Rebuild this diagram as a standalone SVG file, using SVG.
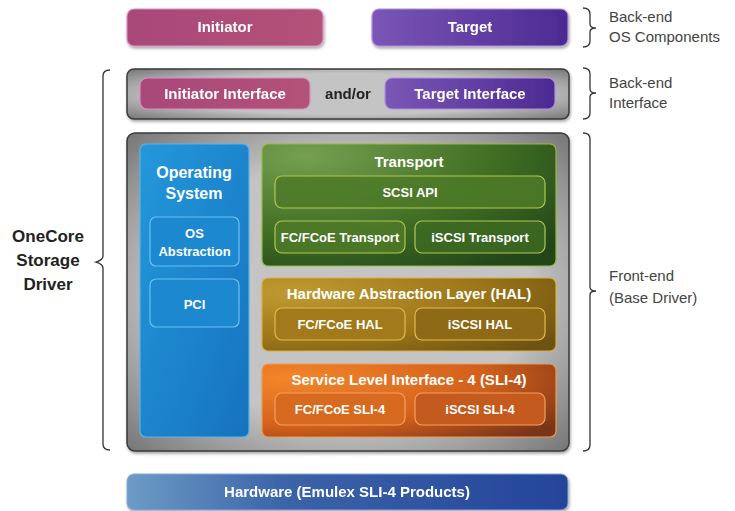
<svg xmlns="http://www.w3.org/2000/svg" width="735" height="511" viewBox="0 0 735 511">
<defs>
<linearGradient id="gInit" x1="0" y1="0" x2="1" y2="0"><stop offset="0" stop-color="#a8487a"/><stop offset="1" stop-color="#b45278"/></linearGradient>
<linearGradient id="gTgt" x1="0" y1="0" x2="1" y2="0"><stop offset="0" stop-color="#7a56b6"/><stop offset="1" stop-color="#4c2a92"/></linearGradient>
<radialGradient id="gGray" cx="0.5" cy="0.5" r="0.75"><stop offset="0.55" stop-color="#c4c4c4"/><stop offset="1" stop-color="#6a6a6a"/></radialGradient>
<linearGradient id="gBlue" x1="0" y1="0" x2="1" y2="1"><stop offset="0" stop-color="#2398da"/><stop offset="1" stop-color="#1672c0"/></linearGradient>
<radialGradient id="gGreen" cx="0.15" cy="0.1" r="1.1"><stop offset="0" stop-color="#76a050"/><stop offset="0.6" stop-color="#3f6c22"/><stop offset="1" stop-color="#23451a"/></radialGradient>
<radialGradient id="gHal" cx="0.1" cy="0.2" r="1.1"><stop offset="0" stop-color="#c09a30"/><stop offset="0.6" stop-color="#9a7418"/><stop offset="1" stop-color="#6e5212"/></radialGradient>
<radialGradient id="gSli" cx="0.1" cy="0.2" r="1.1"><stop offset="0" stop-color="#f4862a"/><stop offset="0.6" stop-color="#d2601c"/><stop offset="1" stop-color="#7a3418"/></radialGradient>
<linearGradient id="gHw" x1="0" y1="0" x2="1" y2="0"><stop offset="0" stop-color="#6c9cc6"/><stop offset="0.35" stop-color="#3c64a8"/><stop offset="1" stop-color="#24449a"/></linearGradient>
<filter id="sh" x="-5%" y="-10%" width="110%" height="125%"><feDropShadow dx="1" dy="2" stdDeviation="1.5" flood-color="#000" flood-opacity="0.35"/></filter>
</defs>
<style>
.t{font-family:"Liberation Sans",Arial,sans-serif;font-weight:bold;fill:#fff;text-anchor:middle}
.lab{font-family:"Liberation Sans",Arial,sans-serif;fill:#444;font-size:15px}
.side{font-family:"Liberation Sans",Arial,sans-serif;font-weight:bold;fill:#222;font-size:17px;text-anchor:middle}
.br{fill:none;stroke:#333;stroke-width:1.3}
.inner{stroke-width:1.2}
</style>

<g id="initiator" filter="url(#sh)"><rect x="127" y="9" width="196" height="37" rx="7" fill="url(#gInit)" stroke="#d890c0" stroke-width="1.2"/><text class="t" x="225" y="32" font-size="15">Initiator</text></g>
<g id="target" filter="url(#sh)"><rect x="372" y="9" width="196" height="37" rx="7" fill="url(#gTgt)" stroke="#b090e0" stroke-width="1.2"/><text class="t" x="470" y="32" font-size="15">Target</text></g>

<g id="backend-interface" filter="url(#sh)"><rect x="127" y="69" width="442" height="50" rx="7" fill="url(#gGray)" stroke="#3a3a3a" stroke-width="1.5"/>
<rect x="140" y="78" width="170" height="31" rx="7" fill="url(#gInit)" stroke="#d890c0" stroke-width="1.2"/><text class="t" x="225" y="99" font-size="15">Initiator Interface</text>
<text x="348" y="99" font-family="Liberation Sans,Arial,sans-serif" font-weight="bold" font-size="15" fill="#222" text-anchor="middle">and/or</text>
<rect x="385" y="78" width="170" height="31" rx="7" fill="url(#gTgt)" stroke="#b090e0" stroke-width="1.2"/><text class="t" x="470" y="99" font-size="15">Target Interface</text></g>

<g id="core" filter="url(#sh)"><rect x="127" y="133" width="442" height="318" rx="8" fill="url(#gGray)" stroke="#3a3a3a" stroke-width="1.5"/></g>

<g id="os"><rect x="140" y="144" width="109" height="293" rx="6" fill="url(#gBlue)" stroke="#5ab4ea" stroke-width="1.2"/>
<text class="t" x="194" y="178" font-size="16">Operating</text><text class="t" x="194" y="199" font-size="16">System</text>
<rect x="150" y="217" width="89" height="49" rx="6" fill="#1b88d0" stroke="#6cc0f0" class="inner"/><text class="t" x="194.5" y="238" font-size="13">OS</text><text class="t" x="194.5" y="256" font-size="13">Abstraction</text>
<rect x="150" y="279" width="89" height="48" rx="6" fill="#1b88d0" stroke="#6cc0f0" class="inner"/><text class="t" x="194.5" y="309" font-size="13">PCI</text></g>

<g id="transport"><rect x="262" y="144" width="294" height="122" rx="6" fill="url(#gGreen)" stroke="#9ab840" stroke-width="1.2"/>
<text class="t" x="409" y="167" font-size="15">Transport</text>
<rect x="275" y="176" width="270" height="32" rx="7" fill="#4d7a28" fill-opacity="0.85" stroke="#b0c850" class="inner"/><text class="t" x="410" y="197" font-size="13">SCSI  API</text>
<rect x="275" y="221" width="130" height="32" rx="7" fill="#4d7a28" fill-opacity="0.85" stroke="#b0c850" class="inner"/><text class="t" x="340" y="242" font-size="13">FC/FCoE Transport</text>
<rect x="415" y="221" width="130" height="32" rx="7" fill="#3d6a22" fill-opacity="0.85" stroke="#b0c850" class="inner"/><text class="t" x="480" y="242" font-size="13">iSCSI Transport</text></g>

<g id="hal"><rect x="262" y="278" width="294" height="73" rx="6" fill="url(#gHal)" stroke="#d8b040" stroke-width="1.2"/>
<text class="t" x="409" y="299" font-size="15">Hardware Abstraction Layer (HAL)</text>
<rect x="275" y="308" width="130" height="32" rx="7" fill="#a27a1c" stroke="#e0bc50" class="inner"/><text class="t" x="340" y="329" font-size="13">FC/FCoE HAL</text>
<rect x="415" y="308" width="130" height="32" rx="7" fill="#8e6a16" stroke="#e0bc50" class="inner"/><text class="t" x="480" y="329" font-size="13">iSCSI HAL</text></g>

<g id="sli4"><rect x="262" y="364" width="294" height="73" rx="6" fill="url(#gSli)" stroke="#f09a50" stroke-width="1.2"/>
<text class="t" x="409" y="385" font-size="15">Service Level Interface - 4 (SLI-4)</text>
<rect x="275" y="393" width="130" height="32" rx="7" fill="#d86a20" stroke="#f4a060" class="inner"/><text class="t" x="340" y="414" font-size="13">FC/FCoE SLI-4</text>
<rect x="415" y="393" width="130" height="32" rx="7" fill="#c45a1e" stroke="#f4a060" class="inner"/><text class="t" x="480" y="414" font-size="13">iSCSI SLI-4</text></g>

<g id="hardware" filter="url(#sh)"><rect x="127" y="474" width="441" height="36" rx="7" fill="url(#gHw)" stroke="#8aa8d8" stroke-width="1"/><text class="t" x="347" y="497" font-size="15">Hardware (Emulex SLI-4 Products)</text></g>

<g id="braces">
<path class="br" d="M583 8 Q590 8 590 14 L590 24 Q590 28 596 28 Q590 28 590 32 L590 41 Q590 47 583 47"/>
<path class="br" d="M583 68 Q590 68 590 74 L590 89 Q590 93 596 93 Q590 93 590 97 L590 113 Q590 119 583 119"/>
<path class="br" d="M583 133 Q590 133 590 139 L590 287 Q590 291 596 291 Q590 291 590 295 L590 445 Q590 451 583 451"/>
<path class="br" d="M110 70 Q103 70 103 76 L103 256 Q103 260 96 262 Q103 264 103 268 L103 444 Q103 450 110 450"/>
</g>
<g id="labels">
<text class="lab" x="609" y="22">Back-end</text><text class="lab" x="609" y="42">OS Components</text>
<text class="lab" x="609" y="88">Back-end</text><text class="lab" x="609" y="108">Interface</text>
<text class="lab" x="609" y="281">Front-end</text><text class="lab" x="609" y="303">(Base Driver)</text>
<text class="side" x="48" y="242">OneCore</text><text class="side" x="48" y="266">Storage</text><text class="side" x="48" y="290">Driver</text>
</g>
</svg>
